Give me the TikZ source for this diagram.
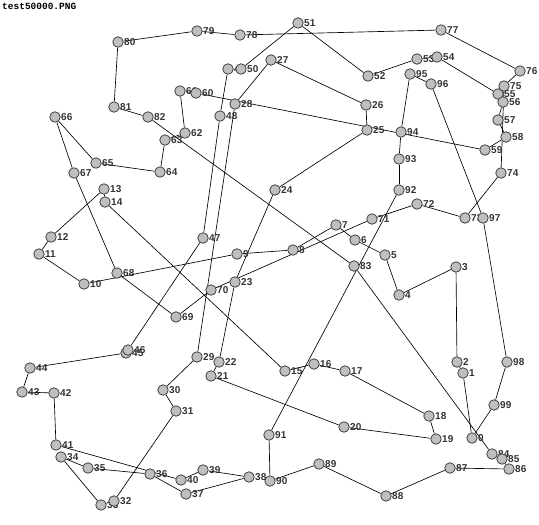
\documentclass[tikz,border=0pt]{standalone}
\usepackage{fontspec}
\setmainfont{Liberation Sans}
\newfontfamily\titlefont{Liberation Mono}
\usetikzlibrary{backgrounds}

\begin{document}
\begin{tikzpicture}[
  x=1pt, y=1pt,
  dot/.style={circle, draw=black!75, fill=black!25, line width=0.8pt,
              minimum size=10.5pt, inner sep=0},
  lbl/.style={anchor=west, inner sep=0, font=\fontsize{10}{10}\selectfont\bfseries,
              text=black!80},
  edge/.style={draw=black, line width=0.65pt},
]

\useasboundingbox (0,0) rectangle (539,-525);

% tour points: number/x/y (y counted downwards)
\def\pts{0/472/438, 1/463/373, 2/457/362, 3/456/267, 4/399/295, 5/385/255,
  6/355/240, 7/336/225, 8/293/250, 9/237/254, 10/84/284, 11/39/254,
  12/51/237, 13/104/189, 14/105/202, 15/285/371, 16/314/364, 17/345/371,
  18/429/416, 19/436/439, 20/344/427, 21/211/376, 22/219/362, 23/235/282,
  24/275/190, 25/367/130, 26/366/105, 27/271/60, 28/235/104, 29/197/357,
  30/163/390, 31/176/411, 32/114/501, 33/101/505, 34/61/457, 35/88/468,
  36/150/474, 37/186/494, 38/249/477, 39/203/470, 40/181/480, 41/56/445,
  42/54/393, 43/22/392, 44/30/368, 45/126/353, 46/128/350, 47/203/238,
  48/220/116, 49/228/69, 50/241/69, 51/298/23, 52/368/76, 53/417/59,
  54/437/57, 55/498/94, 56/503/102, 57/498/120, 58/506/137, 59/485/150,
  60/196/93, 61/180/91, 62/185/133, 63/165/140, 64/160/172, 65/96/163,
  66/55/117, 67/74/173, 68/117/273, 69/176/317, 70/211/290, 71/372/219,
  72/417/204, 73/465/218, 74/501/173, 75/504/86, 76/520/71, 77/441/30,
  78/240/35, 79/197/31, 80/118/42, 81/114/107, 82/148/117, 83/354/266,
  84/492/454, 85/502/459, 86/509/469, 87/450/468, 88/386/496, 89/319/464,
  90/270/481, 91/269/435, 92/399/190, 93/399/159, 94/401/132, 95/410/74,
  96/431/84, 97/483/218, 98/507/362, 99/494/405}

% title
\node[anchor=base west, inner sep=0, font=\titlefont\fontsize{9.5}{9.5}\selectfont\bfseries]
  (title) at (2,-9) {test50000.PNG};

% labels first, so the circles cover them
\foreach \i/\x/\y in \pts
  \node[lbl] (t\i) at (\x+6,-\y) {\i};

% circles
\foreach \i/\x/\y in \pts
  \node[dot] (n\i) at (\x,-\y) {};

% edges: closed tour 0-1-...-99-0
\begin{scope}[on background layer]
\foreach \i in {0,...,99}{
  \pgfmathtruncatemacro\j{mod(\i+1,100)}
  \draw[edge] (n\i) -- (n\j);
}
\end{scope}

\end{tikzpicture}
\end{document}
